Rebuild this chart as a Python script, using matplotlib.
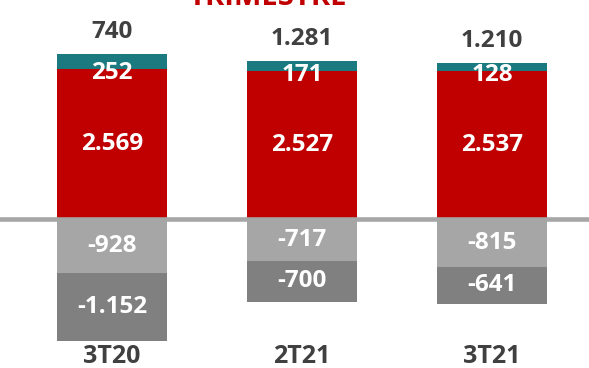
import matplotlib
matplotlib.use('Agg')
import matplotlib.pyplot as plt
import matplotlib.transforms as mtransforms

# quarterly breakdown, values in thousands
quarters  = ["3T20", "2T21", "3T21"]
base      = [2569, 2527, 2537]     # red block
extra     = [252, 171, 128]        # teal cap on top
costs_a   = [-928, -717, -815]     # light gray, first below zero
costs_b   = [-1152, -700, -641]    # dark gray, under costs_a
totals    = ["740", "1.281", "1.210"]

RED   = "#C00000"
TEAL  = "#1B7A80"
LGRAY = "#A6A6A6"
DGRAY = "#808080"
DARK  = "#404040"

def fmt(v):
    return f"{v:,}".replace(",", ".")

plt.rcParams['font.family'] = ['Open Sans', 'DejaVu Sans']

fig = plt.figure(figsize=(5.89, 3.68), dpi=100)
ax = fig.add_axes([0, 0, 1, 1])

x = list(range(len(quarters)))
w = 0.58
ax.bar(x, base, w, color=RED, zorder=2)
ax.bar(x, extra, w, bottom=base, color=TEAL, zorder=2)
ax.bar(x, costs_a, w, color=LGRAY, zorder=2)
ax.bar(x, costs_b, w, bottom=costs_a, color=DGRAY, zorder=2)

# zero line runs across the whole width, over the bars
ax.axhline(0, color=LGRAY, lw=3.3, zorder=3)

lbl = dict(ha='center', va='center', color='white', fontsize=17.5,
           fontweight='bold', zorder=4)
for i in x:
    ax.text(i, base[i] / 2, fmt(base[i]), **lbl)
    ax.annotate(fmt(extra[i]), (i, base[i]), xytext=(0, -3),
                textcoords='offset points', **lbl)
    ax.text(i, costs_a[i] / 2, fmt(costs_a[i]), **lbl)
    ax.text(i, costs_a[i] + costs_b[i] / 2, fmt(costs_b[i]), **lbl)
    ax.annotate(totals[i], (i, base[i] + extra[i]), xytext=(0, 7),
                textcoords='offset points', ha='center', va='bottom',
                color=DARK, fontsize=17.5, fontweight='bold')

trans = mtransforms.blended_transform_factory(ax.transData, ax.transAxes)
for i, q in enumerate(quarters):
    ax.text(i, 0.032, q, transform=trans, ha='center', va='center',
            color=DARK, fontsize=18, fontweight='bold')

# title sits mostly above the canvas edge
fig.text(0.455, 1 - 5 / 368, "TRIMESTRE", ha='center', va='baseline',
         color=RED, fontsize=21, fontweight='bold')

s = 0.0585  # pixels per unit
ax.set_xlim(-112 / 190, (589 - 112) / 190)
ax.set_ylim(-(368 - 219) / s, 219 / s)
ax.axis('off')

plt.savefig("out.png", dpi=100)
plt.close()
